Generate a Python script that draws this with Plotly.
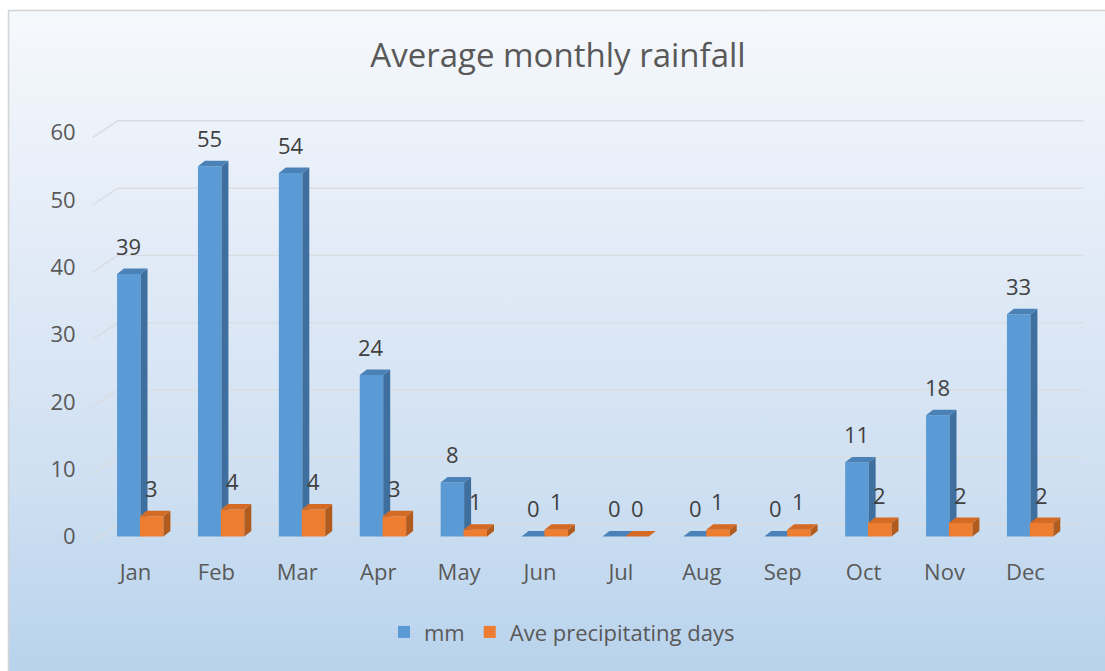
import plotly.graph_objects as go

months = ["Jan", "Feb", "Mar", "Apr", "May", "Jun", "Jul", "Aug", "Sep", "Oct", "Nov", "Dec"]
mm = [39, 55, 54, 24, 8, 0, 0, 0, 0, 11, 18, 33]
days = [3, 4, 4, 3, 1, 1, 0, 1, 1, 2, 2, 2]
yticks = [0, 10, 20, 30, 40, 50, 60]

W, H_REF = 1105, 671
H = 679                      # page height; the capture is fitted into 671 px
SY = H / H_REF
FONT = "Open Sans"
TXT = "#595959"

# pseudo-3D geometry (category / value units)
PX_X = 80.9
PX_Y = 6.75 * SY
BW = 0.29
OFF_MM = -0.228
OFF_D = 0.055
DX = 7 / PX_X
DY = 5.5 * SY / PX_Y
XR = [-0.55, 11.72]
YR = [-1, 62]

cat0 = 135.5
y_zero = 535 * SY
x_left = cat0 + XR[0] * PX_X
x_right = cat0 + XR[1] * PX_X
y_bot = y_zero - YR[0] * PX_Y
y_top = y_zero - YR[1] * PX_Y
xdom = [x_left / W, x_right / W]
ydom = [(H - y_bot) / H, (H - y_top) / H]


def faces(vals, off):
    sx, sy, tx, ty = [], [], [], []
    for i, v in enumerate(vals):
        xl = i + off
        xr = xl + BW
        sx += [xr, xr + DX, xr + DX, xr, xr, None]
        sy += [0, DY, v + DY, v, 0, None]
        tx += [xl, xl + DX, xr + DX, xr, xl, None]
        ty += [v, v + DY, v + DY, v, v, None]
    return sx, sy, tx, ty


fig = go.Figure()

# background gradient panel
top = 7.5 * SY
fig.add_trace(go.Scatter(
    x=[8.5, W + 10, W + 10, 8.5, 8.5], y=[top, top, H + 10, H + 10, top], xaxis="x", yaxis="y",
    mode="lines", fill="toself",
    line=dict(color="#d4d4d4", width=1.5),
    fillgradient=dict(type="vertical", start=top, stop=H,
                      colorscale=[[0, "#f6f9fc"], [0.3, "#e5edf8"], [0.7, "#cfe0f2"], [1, "#b7d2ec"]]),
    hoverinfo="skip", showlegend=False))

xs = list(range(len(months)))

# mm series
fig.add_trace(go.Bar(x=xs, y=mm, width=BW, offset=OFF_MM, name="mm",
                     marker=dict(color="#5b9bd5", line=dict(width=0)),
                     xaxis="x2", yaxis="y2", hoverinfo="y"))
sx, sy, tx, ty = faces(mm, OFF_MM)
fig.add_trace(go.Scatter(x=sx, y=sy, mode="lines", fill="toself", fillcolor="#3e6f9f",
                         line=dict(width=0), xaxis="x2", yaxis="y2", showlegend=False, hoverinfo="skip"))
fig.add_trace(go.Scatter(x=tx, y=ty, mode="lines", fill="toself", fillcolor="#4a82b8",
                         line=dict(width=0), xaxis="x2", yaxis="y2", showlegend=False, hoverinfo="skip"))

# days series (overlay subplot, drawn above)
fig.add_trace(go.Bar(x=xs, y=days, width=BW, offset=OFF_D, name="Ave precipitating days",
                     marker=dict(color="#ed7d31", line=dict(width=0)),
                     xaxis="x3", yaxis="y3", hoverinfo="y"))
sx, sy, tx, ty = faces(days, OFF_D)
fig.add_trace(go.Scatter(x=sx, y=sy, mode="lines", fill="toself", fillcolor="#b25b1f",
                         line=dict(width=0), xaxis="x3", yaxis="y3", showlegend=False, hoverinfo="skip"))
fig.add_trace(go.Scatter(x=tx, y=ty, mode="lines", fill="toself", fillcolor="#d46a24",
                         line=dict(width=0), xaxis="x3", yaxis="y3", showlegend=False, hoverinfo="skip"))

# back-wall gridlines
shapes = []
for v in yticks:
    path = "M {:.4f},{:.4f} L {:.4f},{:.4f} L {:.4f},{:.4f}".format(
        -0.53, v - 0.74, -0.22, v + 1.75, XR[1], v + 1.75)
    shapes.append(dict(type="path", path=path, xref="x2", yref="y2", layer="below",
                       line=dict(color="#d9dde2", width=1.5)))

# data labels
ann = []
for i, v in enumerate(mm):
    ann.append(dict(x=i + OFF_MM + BW / 2, y=v, xref="x2", yref="y2", text=str(v),
                    showarrow=False, yshift=28 * SY, font=dict(family=FONT, size=22, color="#404040")))
for i, v in enumerate(days):
    ann.append(dict(x=i + OFF_D + BW / 2, y=v, xref="x2", yref="y2", text=str(v),
                    showarrow=False, yshift=28 * SY, font=dict(family=FONT, size=22, color="#404040")))

fig.update_layout(
    width=W, height=H,
    margin=dict(l=0, r=0, t=0, b=0),
    paper_bgcolor="white", plot_bgcolor="rgba(0,0,0,0)",
    barmode="overlay",
    font=dict(family=FONT, size=22, color=TXT),
    title=dict(text="Average monthly rainfall", x=558 / W, xanchor="center", y=(H - 55 * SY) / H,
               yanchor="middle", font=dict(family=FONT, size=33, color=TXT)),
    xaxis=dict(domain=[0, 1], range=[0, W], visible=False, fixedrange=True),
    yaxis=dict(domain=[0, 1], range=[H, 0], visible=False, fixedrange=True),
    xaxis2=dict(domain=xdom, range=XR, anchor="y2", tickmode="array", tickvals=xs, ticktext=months,
                showgrid=False, zeroline=False, showline=False, ticks="outside", ticklen=9,
                tickcolor="rgba(0,0,0,0)", tickfont=dict(family=FONT, size=22, color=TXT)),
    yaxis2=dict(domain=ydom, range=YR, anchor="x2", tickmode="array", tickvals=yticks,
                showgrid=False, zeroline=False, showline=False, ticks="outside", ticklen=10,
                tickcolor="rgba(0,0,0,0)", tickfont=dict(family=FONT, size=22, color=TXT)),
    xaxis3=dict(overlaying="x2", range=XR, visible=False, anchor="y3"),
    yaxis3=dict(overlaying="y2", range=YR, visible=False, anchor="x3"),
    legend=dict(orientation="h", x=562 / W, xanchor="center", y=(H - 631 * SY) / H, yanchor="middle",
                bgcolor="rgba(0,0,0,0)", font=dict(family=FONT, size=22, color=TXT),
                traceorder="normal"),
    shapes=shapes, annotations=ann,
)

fig.write_html("out.html", config={"displayModeBar": False},
               post_script="document.body.style.margin='0px';")
